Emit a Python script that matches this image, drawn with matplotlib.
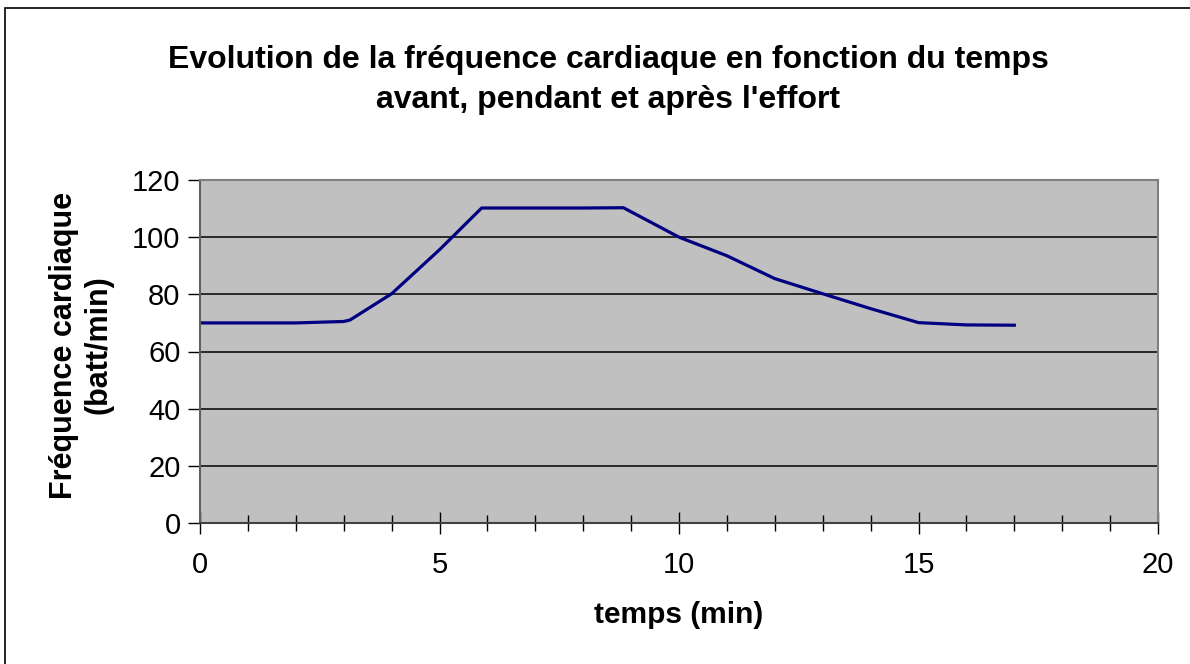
import matplotlib
matplotlib.use("Agg")
from matplotlib import pyplot as plt
from matplotlib.ticker import MultipleLocator

plt.rcParams['font.family'] = ['Liberation Sans', 'DejaVu Sans']

# temps (min) et fréquence cardiaque (batt/min)
temps = [0, 1, 2, 3, 3.13, 4, 5, 5.88, 7, 8, 8.84, 10, 11, 12, 13, 14, 15, 16, 17]
freq = [70, 70, 70, 70.5, 71, 80.2, 95.6, 110.2, 110.2, 110.2, 110.3, 100, 93.5, 85.5, 80.2, 75, 70.1, 69.3, 69.2]

titre = "Evolution de la fréquence cardiaque en fonction du temps\navant, pendant et après l'effort"

fig = plt.figure(figsize=(11.9, 6.64), dpi=100)
ax = fig.add_axes([200/1190, 1-523/664, 958/1190, 343/664])

ax.set_facecolor('#C0C0C0')
ax.plot(temps, freq, color='#000080', lw=2.3, solid_joinstyle='round')

ax.set_xlim(0, 20)
ax.set_ylim(0, 120)
ax.xaxis.set_major_locator(MultipleLocator(5))
ax.xaxis.set_minor_locator(MultipleLocator(1))
ax.yaxis.set_major_locator(MultipleLocator(20))
ax.grid(axis='y', color='black', lw=1.1)
ax.set_axisbelow(True)

ax.tick_params(axis='x', which='major', direction='inout', length=16, width=1, labelsize=21, pad=12)
ax.tick_params(axis='x', which='minor', direction='inout', length=12, width=1)
ax.tick_params(axis='y', direction='out', length=9, width=1, labelsize=21, pad=5)

for s in ['top', 'right']:
    ax.spines[s].set_color('#808080')
    ax.spines[s].set_linewidth(1.5)
ax.spines['left'].set_color('#606060')
ax.spines['left'].set_linewidth(1.5)
ax.spines['bottom'].set_color('#404040')
ax.spines['bottom'].set_linewidth(1.5)

ax.set_xlabel("temps (min)", fontsize=21.5, fontweight='bold', labelpad=16)
fig.text(81/1190, 1-345/664, "Fréquence cardiaque\n(batt/min)", rotation=90, fontsize=22,
         fontweight='bold', ha='center', va='center', linespacing=1.2)
fig.text(608/1190, 1-80/664, titre, fontsize=23, fontweight='bold', ha='center', va='center',
         linespacing=1.4)

# cadre du graphique
fig.add_artist(plt.Rectangle((5/1190, -0.1), 1.2, 1-8/664+0.1, transform=fig.transFigure,
                             fill=False, edgecolor='black', lw=1.2))

fig.savefig("out.png", dpi=100)
